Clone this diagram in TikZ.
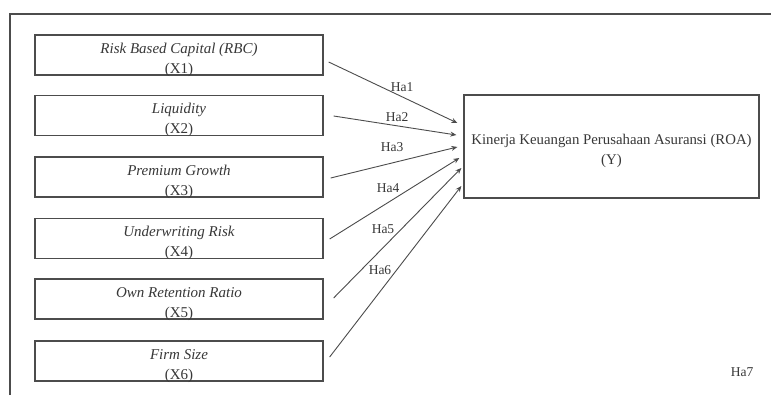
\documentclass[tikz,border=0pt]{standalone}
\usepackage{fontspec}
\setmainfont{Liberation Serif}
\usetikzlibrary{arrows.meta,calc}
\definecolor{ink}{gray}{0.22}
\definecolor{linec}{gray}{0.30}
\newcommand{\topstrut}{\rule{0pt}{16.5pt}}
\begin{document}
\begin{tikzpicture}[x=1pt,y=-1pt,
  xbox/.style={draw=linec,line width=1.3pt,minimum width=288pt,minimum height=40pt,inner sep=0pt,align=center,text=ink,font=\fontsize{15}{20}\selectfont},
  ybox/.style={draw=linec,line width=1.3pt,minimum width=295pt,minimum height=103pt,inner sep=0pt,align=center,text=ink,font=\fontsize{14.8}{20}\selectfont},
  conn/.style={draw=linec,line width=0.9pt,-{Stealth[length=6pt,width=5pt]}},
  hlabel/.style={text=ink,font=\fontsize{13.5}{15}\selectfont,inner sep=0pt}]
\useasboundingbox (0,0) rectangle (771,396);
\fill[white] (0,0) rectangle (771,396);
\draw[linec,line width=1.6pt] (10,395) -- (10,14) -- (771,14);

\node[xbox] (x1) at (179,55)    {\topstrut\textit{Risk Based Capital (RBC)}\\\smash{(X1)}};
\node[xbox] (x2) at (179,115.5) {\topstrut\textit{Liquidity}\\\smash{(X2)}};
\node[xbox] (x3) at (179,177)   {\topstrut\textit{Premium Growth}\\\smash{(X3)}};
\node[xbox] (x4) at (179,238.5) {\topstrut\textit{Underwriting Risk}\\\smash{(X4)}};
\node[xbox] (x5) at (179,299)   {\topstrut\textit{Own Retention Ratio}\\\smash{(X5)}};
\node[xbox] (x6) at (179,361)   {\topstrut\textit{Firm Size}\\\smash{(X6)}};

\node[ybox] (y) at (611.5,146.5) {\topstrut Kinerja Keuangan Perusahaan Asuransi (ROA)\\\smash{(Y)}};

\draw[conn] ($(x1.east)+(5,7)$)    -- ($(y.west)+(-6,-23.5)$);
\draw[conn] ($(x2.east)+(10,0.5)$) -- ($(y.west)+(-7,-11.5)$);
\draw[conn] ($(x3.east)+(7,1)$)    -- ($(y.west)+(-6,0.5)$);
\draw[conn] ($(x4.east)+(6,0.5)$)  -- ($(y.west)+(-4,11.5)$);
\draw[conn] ($(x5.east)+(10,-1)$)  -- ($(y.west)+(-2,21.5)$);
\draw[conn] ($(x6.east)+(6,-4)$)   -- ($(y.west)+(-2,39.5)$);

\node[hlabel] (h1) at (402,87)  {Ha1};
\node[hlabel] (h2) at (397,117) {Ha2};
\node[hlabel] (h3) at (392,147) {Ha3};
\node[hlabel] (h4) at (388,188) {Ha4};
\node[hlabel] (h5) at (383,229) {Ha5};
\node[hlabel] (h6) at (380,270) {Ha6};
\node[hlabel] (h7) at (742,372) {Ha7};
\end{tikzpicture}
\end{document}
